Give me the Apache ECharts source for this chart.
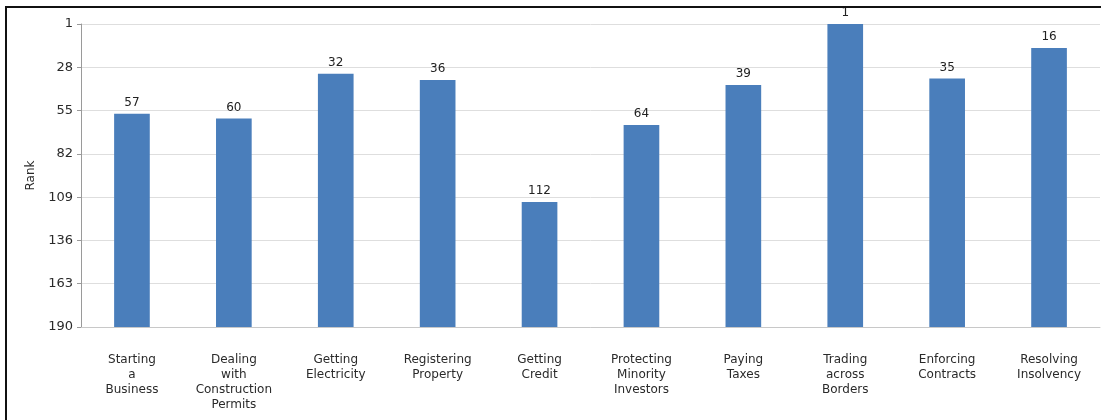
<!DOCTYPE html>
<html>
<head>
<meta charset="utf-8">
<script src="https://cdn.jsdelivr.net/npm/echarts@6/dist/echarts.min.js"></script>
<style>
  html, body { margin: 0; padding: 0; background: #fff; }
  #chart { width: 1101px; height: 420px; }
</style>
</head>
<body>
<div id="chart"></div>
<script>
// Doing Business topic rankings (1 = best, 190 = worst)
const categories = [
  'Starting\na\nBusiness',
  'Dealing\nwith\nConstruction\nPermits',
  'Getting\nElectricity',
  'Registering\nProperty',
  'Getting\nCredit',
  'Protecting\nMinority\nInvestors',
  'Paying\nTaxes',
  'Trading\nacross\nBorders',
  'Enforcing\nContracts',
  'Resolving\nInsolvency'
];
const ranks = [57, 60, 32, 36, 112, 64, 39, 1, 35, 16];
const rankTicks = [1, 28, 55, 82, 109, 136, 163, 190];

const FONT = '"DejaVu Sans", Verdana, sans-serif';
const BAR_COLOR = '#4a7ebb';
const rankMin = rankTicks[0];
const rankMax = rankTicks[rankTicks.length - 1];

const chart = echarts.init(document.getElementById('chart'), null, { renderer: 'canvas' });

chart.setOption({
  animation: false,
  backgroundColor: '#ffffff',
  grid: { left: 81, right: 1, top: 24, bottom: 93, containLabel: false },
  xAxis: {
    type: 'category',
    data: categories,
    axisLine: { show: true, lineStyle: { color: '#c8c8c8', width: 1 } },
    axisTick: { show: false },
    axisLabel: {
      interval: 0,
      margin: 25,
      color: '#2a2a2a',
      fontFamily: FONT,
      fontSize: 12,
      lineHeight: 15,
      align: 'center'
    },
    splitLine: { show: false }
  },
  yAxis: {
    type: 'value',
    inverse: true,
    min: rankMin,
    max: rankMax,
    name: 'Rank',
    nameLocation: 'middle',
    nameGap: 40,
    nameRotate: 90,
    nameTextStyle: { color: '#2a2a2a', fontFamily: FONT, fontSize: 12 },
    axisLine: { show: true, lineStyle: { color: '#9a9a9a', width: 1 } },
    axisTick: { show: true, length: 4, customValues: rankTicks, lineStyle: { color: '#9a9a9a' } },
    axisLabel: {
      customValues: rankTicks,
      margin: 8,
      color: '#2a2a2a',
      fontFamily: FONT,
      fontSize: 13
    },
    splitLine: { show: true, lineStyle: { color: '#dedede', width: 1 } }
  },
  series: [{
    type: 'custom',
    clip: false,
    data: ranks.map((r, i) => [i, r]),
    encode: { x: 0, y: 1 },
    renderItem: function (params, api) {
      const idx = api.value(0);
      const rank = api.value(1);
      const topPt = api.coord([idx, rank]);
      const basePt = api.coord([idx, rankMax]);
      const w = api.size([1, 0])[0] * 0.35;
      return {
        type: 'rect',
        shape: { x: topPt[0] - w / 2, y: topPt[1], width: w, height: basePt[1] - topPt[1] },
        style: { fill: BAR_COLOR },
        textContent: {
          style: { text: String(rank), fill: '#222', font: '12px ' + FONT }
        },
        textConfig: { position: 'top', distance: 5 }
      };
    }
  }],
  graphic: [
    {
      type: 'line',
      shape: { x1: 6, y1: 7, x2: 6, y2: 420 },
      style: { stroke: '#111', lineWidth: 2 },
      z: 100
    },
    {
      type: 'line',
      shape: { x1: 5, y1: 7, x2: 1101, y2: 7 },
      style: { stroke: '#111', lineWidth: 2 },
      z: 100
    }
  ]
});
</script>
</body>
</html>
